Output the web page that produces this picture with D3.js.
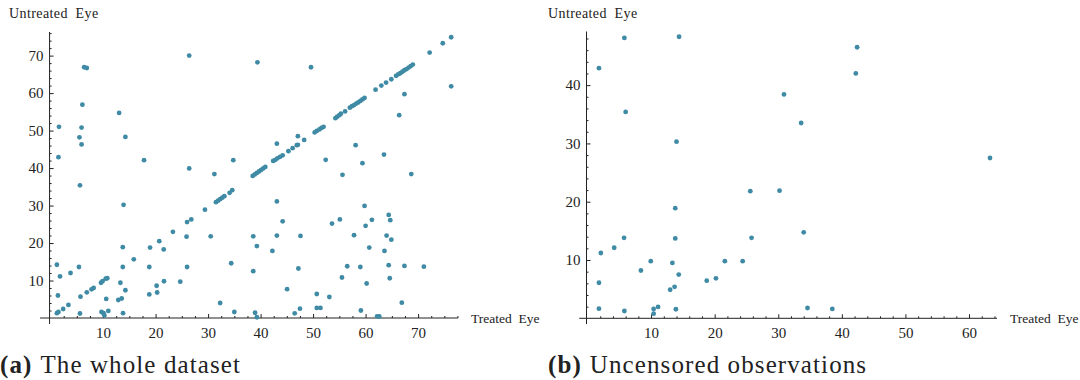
<!DOCTYPE html>
<html>
<head>
<meta charset="utf-8">
<script src="https://cdn.jsdelivr.net/npm/d3@7"></script>
<style>
  body { margin: 0; background: #fff; }
  svg text { font-family: "Liberation Serif", "DejaVu Serif", serif; fill: #222; }
</style>
</head>
<body>
<div id="chart"></div>
<script>
// panel (a): whole dataset, treated eye vs untreated eye
const treatedA = [
  26.4, 6.4, 6.9, 6.06, 13.05, 1.6, 5.9, 5.5, 14.25, 5.9, 1.5, 17.8, 26.4, 31.2, 34.8,
  39.4, 49.6, 76.3, 67.4, 66.4, 47.1, 43.1, 48.3, 52.4, 58.1, 59.4, 63.5, 55.6, 68.7,
  1.4, 1.8, 1.2, 3.8, 5.4, 5.7, 5.6, 9.7, 10.25, 10.1, 11.0, 10.6, 13.3, 14.25, 12.9, 13.55,
  13.75, 13.75, 13.8, 18.8, 21.55, 18.8, 20.2, 20.3, 21.6,
  5.6, 13.9, 25.9, 30.5, 26.0, 24.7, 32.3, 34.4, 35.0,
  43.1, 59.8, 64.4, 44.2, 53.6, 55.1, 60.0, 61.2, 64.7, 38.6, 43.1, 47.6, 57.8, 64.0, 64.9,
  39.3, 42.25, 60.7, 63.6, 38.6, 47.2, 56.5, 59.0, 64.4, 67.4, 71.1, 55.5, 64.6, 60.2,
  45.05, 50.7, 53.1, 66.9, 38.95, 39.3, 46.5, 47.5, 50.7, 51.4, 59.1, 62.2, 62.6,
  // points on the diagonal
  1.2, 1.5, 2.4, 3.4, 6.9, 7.8, 8.2, 9.6, 9.9, 10.5, 10.8, 15.85, 18.95, 20.7, 23.3, 26.0, 26.8, 29.4,
  31.5, 31.9, 32.3, 32.7, 33.1, 34.1, 34.6,
  38.5, 38.9, 39.3, 39.7, 40.1, 40.5, 40.9,
  42.4, 42.8, 43.2, 43.7, 44.2, 45.3, 46.1, 46.9, 47.1,
  50.3, 50.7, 51.2, 51.6, 52.0, 54.25, 54.6, 55.0, 55.3, 56.1,
  57.0, 57.4, 57.8, 58.2, 58.6, 59.0, 59.4, 59.8, 61.9, 63.0, 63.9, 64.9,
  65.8, 66.2, 66.6, 67.0, 67.4, 67.8, 68.2, 68.6, 69.0, 72.2, 74.7, 76.3
];
const untreatedA = [
  70.0, 66.9, 66.7, 56.9, 54.7, 51.0, 50.8, 48.2, 48.3, 46.3, 42.9, 42.1, 39.9, 38.4, 42.1,
  68.2, 66.9, 61.8, 59.7, 54.1, 48.5, 46.5, 47.5, 42.2, 46.1, 41.3, 43.6, 38.2, 38.4,
  6.0, 11.1, 14.2, 12.0, 13.6, 5.7, 1.2, 1.6, 0.7, 1.3, 1.9, 5.1, 9.4, 7.4, 4.8, 5.2,
  18.9, 13.6, 1.3, 13.6, 18.3, 6.3, 8.6, 6.8, 9.8,
  35.4, 30.2, 21.7, 21.8, 13.6, 9.7, 4.0, 14.6, 1.6,
  31.1, 29.9, 27.5, 25.8, 25.2, 26.3, 24.6, 26.2, 26.1, 21.8, 22.0, 21.9, 22.1, 22.0, 20.9,
  19.2, 17.9, 18.8, 17.9, 12.5, 13.2, 13.8, 13.6, 14.1, 13.9, 13.7, 10.8, 10.6, 9.2,
  7.7, 6.4, 5.6, 4.1, 1.4, 0.2, 1.25, 2.5, 2.7, 2.7, 2.0, 0.45, 0.4,
  1.3, 1.6, 2.4, 3.5, 6.85, 7.65, 8.0, 9.4, 9.8, 10.5, 10.6, 15.65, 18.8, 20.5, 23.0, 25.6, 26.3, 28.9,
  30.9, 31.3, 31.7, 32.1, 32.5, 33.4, 34.1,
  37.9, 38.3, 38.7, 39.1, 39.5, 39.9, 40.3,
  41.9, 42.2, 42.6, 43.0, 43.4, 44.5, 45.3, 46.1, 46.2,
  49.5, 49.9, 50.3, 50.7, 51.0, 53.3, 53.7, 54.1, 54.5, 55.1,
  56.1, 56.5, 56.8, 57.2, 57.5, 57.9, 58.3, 58.7, 60.9, 62.0, 62.8, 63.7,
  64.6, 65.0, 65.3, 65.7, 66.1, 66.4, 66.8, 67.2, 67.6, 70.8, 73.3, 74.9
];

// panel (b): uncensored observations
const treatedB = [
  5.8, 14.4, 1.8, 6.0, 14.0, 30.9, 42.4, 42.2, 33.6, 63.3,
  25.6, 30.2, 13.8, 5.75, 13.8, 25.8, 4.2, 2.1, 9.95, 13.35, 21.6, 24.4, 8.4, 1.8,
  14.35, 18.75, 20.2, 13.0, 13.7, 1.8, 5.8, 10.4, 11.1, 10.4, 13.9, 34.0, 34.6, 38.5
];
const untreatedB = [
  48.1, 48.3, 42.9, 35.4, 30.3, 38.4, 46.5, 42.0, 33.5, 27.5,
  21.8, 21.9, 18.9, 13.8, 13.7, 13.8, 12.1, 11.2, 9.8, 9.5, 9.8, 9.8, 8.2, 6.1,
  7.5, 6.45, 6.85, 4.9, 5.4, 1.65, 1.25, 1.6, 1.95, 0.8, 1.55, 14.75, 1.77, 1.6
];

const xTicksA = [10, 20, 30, 40, 50, 60, 70];
const yTicksA = [10, 20, 30, 40, 50, 60, 70];
const xTicksB = [10, 20, 30, 40, 50, 60];
const yTicksB = [10, 20, 30, 40];

const xLabel = "Treated  Eye";
const yLabel = "Untreated  Eye";
const captions = [["(a)", "The whole dataset"], ["(b)", "Uncensored observations"]];

const width = 1080, height = 380;
const dotColor = "#3f8aa4";
const serif = "'Liberation Serif', 'DejaVu Serif', serif";

const svg = d3.select("#chart").append("svg")
  .attr("width", width)
  .attr("height", height);

const panels = [
  { tx: treatedA, ty: untreatedA, xt: xTicksA, yt: yTicksA, xMinor: 2.5, yMinor: 2,
    xDom: [-0.3, 77.6], xRange: [49, 458], yDom: [0, 76.3], yRange: [318, 32],
    xStart: -2, yStart: -1.6, left: 0, labelX: 9, cap: captions[0] },
  { tx: treatedB, ty: untreatedB, xt: xTicksB, yt: yTicksB, xMinor: 2, yMinor: 2,
    xDom: [0, 64.4], xRange: [587.5, 997], yDom: [0, 49.2], yRange: [318.3, 31.5],
    xStart: -1.3, yStart: -1, left: 548, labelX: 548, cap: captions[1] }
];

panels.forEach(p => {
  const x = d3.scaleLinear().domain(p.xDom).range(p.xRange);
  const y = d3.scaleLinear().domain(p.yDom).range(p.yRange);
  const g = svg.append("g");

  const xMinorVals = d3.range(0, p.xDom[1], p.xMinor).filter(v => v > 0 && !p.xt.includes(v));
  const yMinorVals = d3.range(0, p.yDom[1], p.yMinor).filter(v => v > 0 && !p.yt.includes(v));

  // x axis (ticks point up into the plot)
  const gx = g.append("g").attr("transform", `translate(0,${y(0)})`);
  gx.call(d3.axisBottom(x).tickValues(p.xt).tickSize(-4).tickPadding(9).tickFormat(d3.format("d")));
  gx.append("g").call(d3.axisBottom(x).tickValues(xMinorVals).tickSize(-2).tickFormat(""));
  gx.selectAll(".domain").remove();
  gx.append("line")
    .attr("x1", x(p.xStart)).attr("x2", x(p.xDom[1]))
    .attr("stroke", "#222").attr("stroke-width", 1);

  // y axis (ticks point right into the plot)
  const gy = g.append("g").attr("transform", `translate(${x(0) - 1},0)`);
  gy.call(d3.axisLeft(y).tickValues(p.yt).tickSize(-4).tickPadding(6).tickFormat(d3.format("d")));
  gy.append("g").call(d3.axisLeft(y).tickValues(yMinorVals).tickSize(-2).tickFormat(""));
  gy.selectAll(".domain").remove();
  gy.append("line")
    .attr("y1", y(p.yStart)).attr("y2", y(p.yDom[1]))
    .attr("stroke", "#222").attr("stroke-width", 1);

  g.selectAll("g").attr("font-family", serif);
  g.selectAll(".tick line").attr("stroke", "#222");
  g.selectAll(".tick text")
    .attr("font-size", 15)
    .attr("fill", "#222");

  g.append("text")
    .attr("x", p.labelX).attr("y", 18)
    .attr("font-family", serif)
    .attr("font-size", 14)
    .attr("letter-spacing", 0.4)
    .style("white-space", "pre")
    .text(yLabel);

  g.append("text")
    .attr("x", x(p.xDom[1]) + 13).attr("y", y(0) + 5)
    .attr("font-family", serif)
    .attr("font-size", 13.5)
    .style("white-space", "pre")
    .text(xLabel);

  g.append("g")
    .selectAll("circle")
    .data(d3.zip(p.tx, p.ty))
    .join("circle")
      .attr("cx", d => x(d[0]))
      .attr("cy", d => y(d[1]))
      .attr("r", 2.4)
      .attr("fill", dotColor);

  const cap = g.append("text")
    .attr("x", p.left).attr("y", 373)
    .attr("font-family", serif)
    .attr("font-size", 25)
    .attr("letter-spacing", 1.1);
  cap.append("tspan").attr("font-weight", "bold").text(p.cap[0]);
  cap.append("tspan").attr("dx", 8).text(p.cap[1]);
});
</script>
</body>
</html>
